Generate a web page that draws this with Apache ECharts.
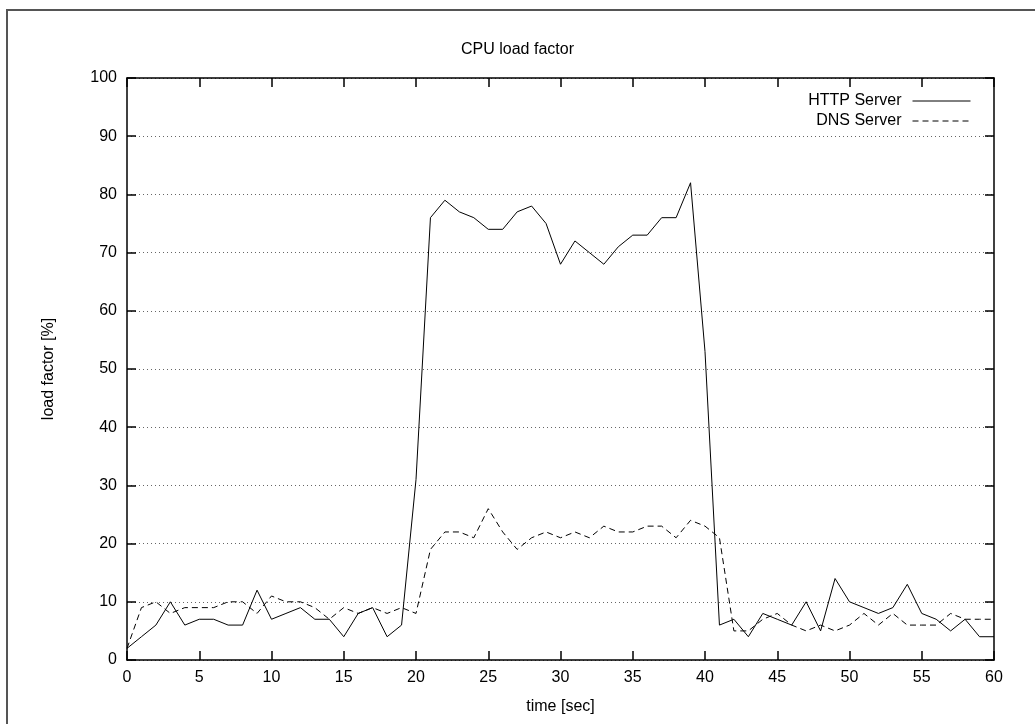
<!DOCTYPE html>
<html>
<head>
<meta charset="utf-8">
<script src="https://cdn.jsdelivr.net/npm/echarts@6/dist/echarts.min.js"></script>
<style>
html,body{margin:0;padding:0;background:#fff;}
#main{width:1035px;height:724px;}
</style>
</head>
<body>
<div id="main"></div>
<script>
// time [sec]
var timeSec = [0,1,2,3,4,5,6,7,8,9,10,11,12,13,14,15,16,17,18,19,20,21,22,23,24,25,26,27,28,29,30,31,32,33,34,35,36,37,38,39,40,41,42,43,44,45,46,47,48,49,50,51,52,53,54,55,56,57,58,59,60];
// HTTP Server load factor [%]
var httpLoad = [2,4,6,10,6,7,7,6,6,12,7,8,9,7,7,4,8,9,4,6,31,76,79,77,76,74,74,77,78,75,68,72,70,68,71,73,73,76,76,82,53,6,7,4,8,7,6,10,5,14,10,9,8,9,13,8,7,5,7,4,4];
// DNS Server load factor [%]
var dnsLoad = [2,9,10,8,9,9,9,10,10,8,11,10,10,9,7,9,8,9,8,9,8,19,22,22,21,26,22,19,21,22,21,22,21,23,22,22,23,23,21,24,23,21,5,5,7,8,6,5,6,5,6,8,6,8,6,6,6,8,7,7,7];
var seriesNames = ['HTTP Server', 'DNS Server'];
var chartTitle = 'CPU load factor';
var xName = 'time [sec]';
var yName = 'load factor [%]';

function pairs(xs, ys){ return xs.map(function(x,i){ return [x, ys[i]]; }); }

var FONT = '"Liberation Sans", Arial, sans-serif';
var chart = echarts.init(document.getElementById('main'), null, {renderer:'canvas'});
var axisLine = {show:true, onZero:false, lineStyle:{color:'#000', width:1.5}};
var tick = {show:true, inside:true, length:9, lineStyle:{color:'#000', width:1.5}};
chart.setOption({
  animation:false,
  backgroundColor:'#fff',
  textStyle:{fontFamily:FONT},
  title:{text:chartTitle, left:'center', top:37, textStyle:{fontFamily:FONT, fontSize:16, fontWeight:'normal', color:'#000'}},
  graphic:[{type:'rect', shape:{x:7, y:10, width:1200, height:900}, style:{fill:'none', stroke:'#555', lineWidth:2}, silent:true}],
  legend:{orient:'vertical', align:'right', right:59, top:88, itemGap:4, itemWidth:58, itemHeight:14,
    itemStyle:{opacity:0}, lineStyle:{width:1},
    textStyle:{fontFamily:FONT, fontSize:16, color:'#000', padding:[0,6,0,0]}, data:seriesNames},
  grid:{left:127, right:41, top:78, bottom:64, containLabel:false},
  xAxis:[
    {type:'value', min:0, max:60, interval:5, position:'bottom', axisLine:axisLine, axisTick:tick,
     axisLabel:{color:'#000', fontSize:16, margin:10, fontFamily:FONT}, splitLine:{show:false},
     name:xName, nameLocation:'middle', nameGap:39, nameTextStyle:{color:'#000', fontSize:16, fontFamily:FONT}},
    {type:'value', min:0, max:60, interval:5, position:'top', axisLine:axisLine, axisTick:tick,
     axisLabel:{show:false}, splitLine:{show:false}}
  ],
  yAxis:[
    {type:'value', min:0, max:100, interval:10, position:'left', axisLine:axisLine, axisTick:tick,
     axisLabel:{color:'#000', fontSize:16, margin:10, fontFamily:FONT},
     splitLine:{show:true, lineStyle:{color:'#666', width:1, type:[1,3]}},
     name:yName, nameLocation:'middle', nameGap:70, nameTextStyle:{color:'#000', fontSize:16, fontFamily:FONT}},
    {type:'value', min:0, max:100, interval:10, position:'right', axisLine:axisLine, axisTick:tick,
     axisLabel:{show:false}, splitLine:{show:false}}
  ],
  series:[
    {name:seriesNames[0], type:'line', xAxisIndex:0, yAxisIndex:0, data:pairs(timeSec, httpLoad), symbol:'none',
     lineStyle:{color:'#000', width:1, type:'solid'}, itemStyle:{color:'#000'}},
    {name:seriesNames[1], type:'line', xAxisIndex:0, yAxisIndex:0, data:pairs(timeSec, dnsLoad), symbol:'none',
     lineStyle:{color:'#000', width:1, type:[6,4]}, itemStyle:{color:'#000'}}
  ]
});
</script>
</body>
</html>
